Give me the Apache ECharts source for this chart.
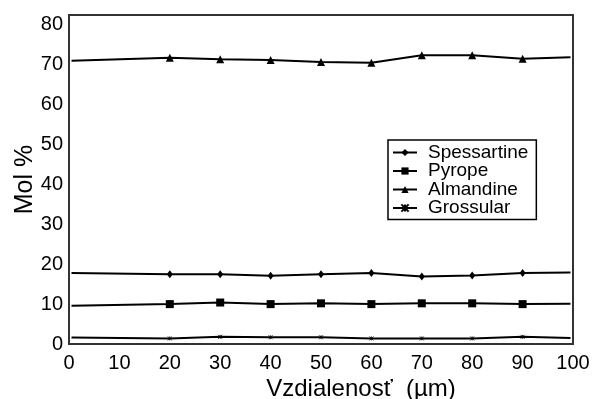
<!DOCTYPE html>
<html>
<head>
<meta charset="utf-8">
<script src="https://cdn.jsdelivr.net/npm/echarts@6/dist/echarts.min.js"></script>
<style>
  html, body { margin: 0; padding: 0; background: #fff; }
  #chart { width: 600px; height: 399px; }
</style>
</head>
<body>
<div id="chart"></div>
<script>
// x positions (µm); the two ends have no marker
const distances = [0.5, 20, 30, 40, 50, 60, 70, 80, 90, 99.5]

const spessartine = [17.8, 17.5, 17.5, 17.1, 17.5, 17.8, 16.9, 17.2, 17.8, 17.9]
const pyrope = [9.6, 10.0, 10.4, 10.0, 10.2, 10.0, 10.2, 10.2, 10.0, 10.1]
const almandine = [71.0, 71.8, 71.4, 71.2, 70.7, 70.5, 72.4, 72.4, 71.5, 71.9]
const grossular = [1.6, 1.4, 1.8, 1.7, 1.7, 1.4, 1.4, 1.4, 1.8, 1.5]

const seriesNames = ['Spessartine', 'Pyrope', 'Almandine', 'Grossular']

const font = '"Liberation Sans", Arial, sans-serif'
const ink = '#000'

// asterisk-like cross
const crossPath = 'path://M0,0L10,10M10,0L0,10M5,0L5,10'

const toPoints = values => values.map((v, i) => {
  const ends = i === 0 || i === values.length - 1
  return ends ? { value: [distances[i], v], symbol: 'none' } : [distances[i], v]
})

const makeSeries = (name, values, symbol, symbolSize, extraItem) => ({
  name,
  type: 'line',
  data: toPoints(values),
  symbol,
  symbolSize,
  showAllSymbol: true,
  lineStyle: { color: ink, width: 2 },
  itemStyle: Object.assign({ color: ink }, extraItem || {}),
  emphasis: { disabled: true },
  z: 3,
})

const chart = echarts.init(document.getElementById('chart'))
chart.setOption({
  animation: false,
  textStyle: { fontFamily: font, color: ink },
  grid: {
    left: 69,
    right: 27,
    top: 15,
    bottom: 55,
    show: true,
    borderColor: '#333',
    borderWidth: 2,
    outerBoundsMode: 'none',
  },
  legend: {
    left: 388,
    top: 140,
    orient: 'vertical',
    data: seriesNames,
    borderColor: ink,
    borderWidth: 1.5,
    padding: [3, 8, 2, 4],
    itemWidth: 24,
    itemHeight: 9,
    itemGap: -0.5,
    textStyle: { fontSize: 19, lineHeight: 17, color: ink, padding: [0, 0, 0, 6] },
  },
  xAxis: {
    type: 'value',
    min: 0,
    max: 100,
    interval: 10,
    name: 'Vzdialenosť  (µm)',
    nameLocation: 'middle',
    nameGap: 33,
    nameMoveOverlap: false,
    nameTextStyle: { fontSize: 24, color: ink, padding: [0, 0, 0, 80] },
    axisLine: { show: false },
    axisTick: { show: false },
    splitLine: { show: false },
    axisLabel: { fontSize: 20, color: ink, margin: 9 },
  },
  yAxis: {
    type: 'value',
    min: 0,
    max: 82.5,
    interval: 10,
    name: 'Mol %',
    nameLocation: 'middle',
    nameGap: 31,
    nameMoveOverlap: false,
    nameTextStyle: { fontSize: 25, color: ink },
    axisLine: { show: false },
    axisTick: { show: false },
    splitLine: { show: false },
    axisLabel: { fontSize: 20, color: ink, margin: 6, showMaxLabel: false },
  },
  series: [
    makeSeries('Spessartine', spessartine, 'diamond', [6, 8]),
    makeSeries('Pyrope', pyrope, 'rect', 8),
    makeSeries('Almandine', almandine, 'triangle', 8),
    makeSeries('Grossular', grossular, crossPath, 4, { borderColor: ink, borderWidth: 0.8 }),
  ],
})
</script>
</body>
</html>
